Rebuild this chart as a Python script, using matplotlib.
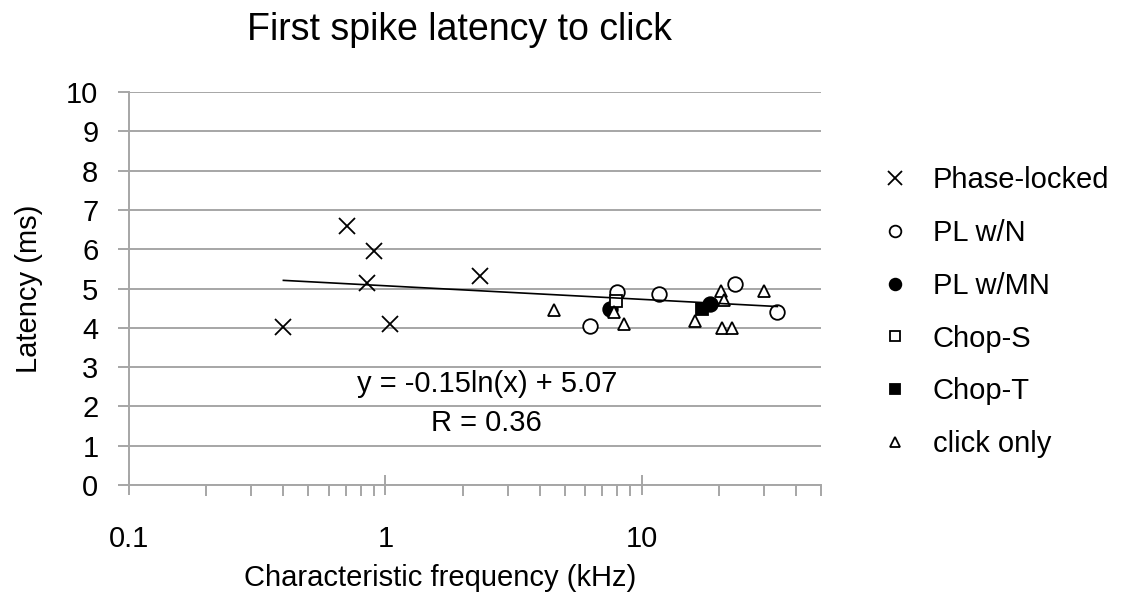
import numpy as np
import matplotlib
matplotlib.use('Agg')
import matplotlib.pyplot as plt
from matplotlib.ticker import LogLocator, NullFormatter, FixedLocator

plt.rcParams['font.family'] = ['Liberation Sans', 'DejaVu Sans']

# data: characteristic frequency (kHz), latency (ms)
pl_x = [0.40, 0.71, 0.85, 0.90, 1.04, 2.34]
pl_y = [4.01, 6.60, 5.13, 5.95, 4.09, 5.31]

plwn_x = [6.3, 8.0, 11.7, 23.2, 33.8]
plwn_y = [4.04, 4.91, 4.87, 5.11, 4.40]

plwmn_x = [7.5, 18.5]
plwmn_y = [4.49, 4.60]

chops_x = [7.9]
chops_y = [4.68]

chopt_x = [17.1]
chopt_y = [4.49]

click_x = [4.54, 7.8, 8.5, 16.1, 20.3, 20.9, 20.6, 22.4, 30.0]
click_y = [4.45, 4.40, 4.11, 4.17, 4.94, 4.70, 4.00, 4.00, 4.94]

# log trendline shown on the chart
fit_slope = -0.15
fit_intercept = 5.07
fit_r = 0.36

fig = plt.figure(figsize=(11.24, 5.96), dpi=100)
ax = fig.add_axes([0.1148, 0.1862, 0.6156, 0.6594])

grid_c = '#a6a6a6'
fs = 21
ax.set_xscale('log')
ax.set_xlim(0.1, 50)
ax.set_ylim(0, 10)
ax.set_yticks(range(0, 11))
ax.yaxis.grid(True, color=grid_c, lw=1.4)
ax.set_axisbelow(True)

ms = 12
ax.plot(pl_x, pl_y, ls='none', marker='x', ms=ms, mec='black', mew=1.3, label='Phase-locked')
ax.plot(plwn_x, plwn_y, ls='none', marker='o', ms=ms - 1.5, mfc='white', mec='black', mew=1.3, label='PL w/N')
ax.plot(plwmn_x, plwmn_y, ls='none', marker='o', ms=ms - 1.5, mfc='black', mec='black', mew=1.3, label='PL w/MN')
ax.plot(chops_x, chops_y, ls='none', marker='s', ms=ms - 3.5, mfc='white', mec='black', mew=1.3, label='Chop-S')
ax.plot(chopt_x, chopt_y, ls='none', marker='s', ms=ms - 3.5, mfc='black', mec='black', mew=1.3, label='Chop-T')
ax.plot(click_x, click_y, ls='none', marker='^', ms=ms - 3, mfc='white', mec='black', mew=1.3, label='click only')

all_x = pl_x + plwn_x + plwmn_x + chops_x + chopt_x + click_x
xs = np.geomspace(min(all_x), max(all_x), 50)
ax.plot(xs, fit_slope * np.log(xs) + fit_intercept, color='black', lw=1.2)

ax.text(0.517, 0.258, 'y = %.2fln(x) + %.2f' % (fit_slope, fit_intercept), transform=ax.transAxes,
        ha='center', va='center', fontsize=fs)
ax.text(0.517, 0.158, 'R = %.2f' % fit_r, transform=ax.transAxes,
        ha='center', va='center', fontsize=fs)

for s in ['top', 'right']:
    ax.spines[s].set_visible(False)
for s in ['left', 'bottom']:
    ax.spines[s].set_color(grid_c)
    ax.spines[s].set_linewidth(1.4)

ax.xaxis.set_major_locator(FixedLocator([0.1, 1, 10]))
ax.xaxis.set_major_formatter(matplotlib.ticker.FixedFormatter(['0.1', '1', '10']))
ax.xaxis.set_minor_locator(LogLocator(base=10, subs=np.arange(2, 10)))
ax.xaxis.set_minor_formatter(NullFormatter())
ax.tick_params(axis='x', which='major', direction='inout', length=15, width=1.4, color=grid_c,
               labelsize=fs, pad=21)
ax.tick_params(axis='x', which='minor', direction='out', length=8, width=1.4, color=grid_c)
ax.tick_params(axis='y', which='major', direction='out', length=8, width=1.4, color=grid_c,
               labelsize=fs, pad=14)

ax.set_xlabel('Characteristic frequency (kHz)', fontsize=fs)
ax.xaxis.set_label_coords(0.449, -0.20)
ax.set_ylabel('Latency (ms)', fontsize=fs)
ax.yaxis.set_label_coords(-0.125, 0.5)
fig.text(0.409, 0.95, 'First spike latency to click', ha='center', va='center', fontsize=27)

leg = ax.legend(loc='upper left', bbox_to_anchor=(0.760, 0.765), bbox_transform=fig.transFigure,
                frameon=False, fontsize=fs, markerscale=0.8, handlelength=1.0,
                handletextpad=0.8, labelspacing=0.85)

fig.savefig('out.png', dpi=100)
